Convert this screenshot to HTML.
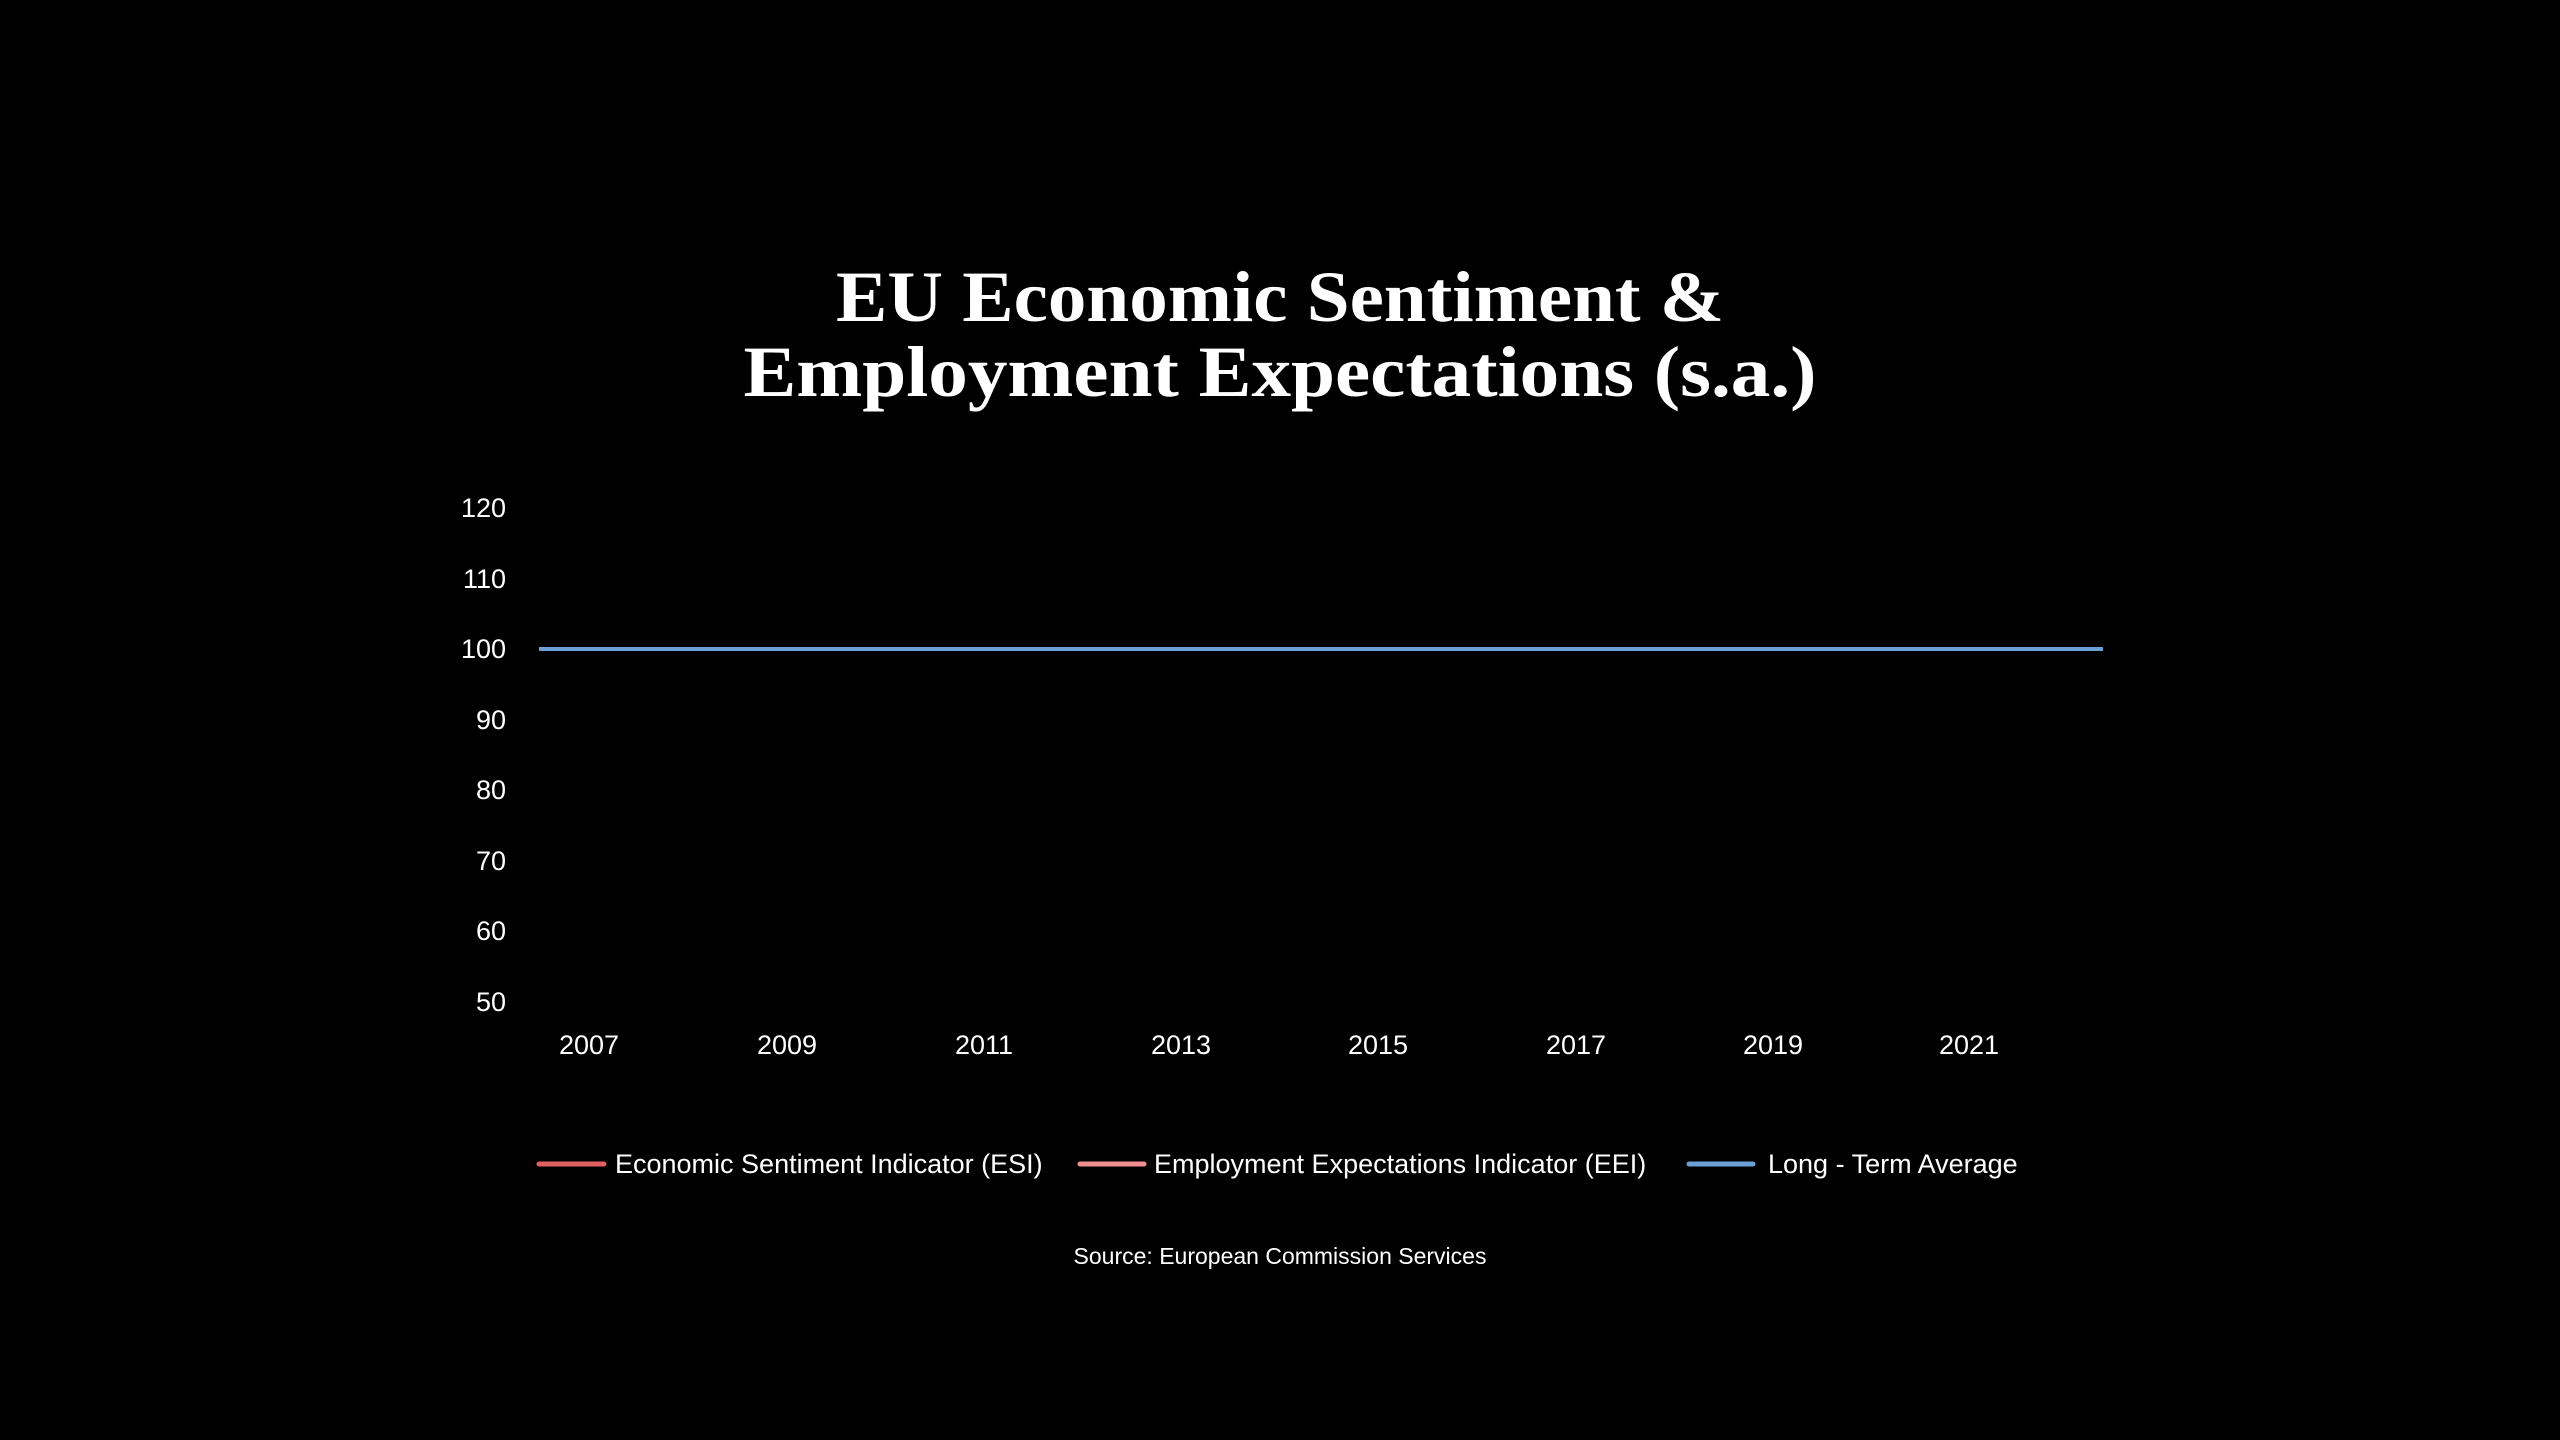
<!DOCTYPE html>
<html><head><meta charset="utf-8"><style>
html,body{margin:0;padding:0;background:#000;width:2560px;height:1440px;overflow:hidden}
svg{display:block}
</style></head><body>
<svg width="2560" height="1440" viewBox="0 0 2560 1440" xmlns="http://www.w3.org/2000/svg">
<rect width="2560" height="1440" fill="#000"/>
<g font-family="Liberation Serif, serif" font-weight="bold" font-size="72" fill="#fff" text-anchor="middle">
<text x="1280" y="321" textLength="888" lengthAdjust="spacingAndGlyphs">EU Economic Sentiment &amp;</text>
<text x="1280" y="396" textLength="1073" lengthAdjust="spacingAndGlyphs">Employment Expectations (s.a.)</text>
</g>
<g font-family="Liberation Sans, sans-serif" font-size="27" fill="#fff" text-anchor="end">
<text x="506" y="517">120</text>
<text x="506" y="588">110</text>
<text x="506" y="658">100</text>
<text x="506" y="729">90</text>
<text x="506" y="799">80</text>
<text x="506" y="870">70</text>
<text x="506" y="940">60</text>
<text x="506" y="1011">50</text>
</g>
<g font-family="Liberation Sans, sans-serif" font-size="27" fill="#fff" text-anchor="middle">
<text x="589" y="1054">2007</text>
<text x="787" y="1054">2009</text>
<text x="984" y="1054">2011</text>
<text x="1181" y="1054">2013</text>
<text x="1378" y="1054">2015</text>
<text x="1576" y="1054">2017</text>
<text x="1773" y="1054">2019</text>
<text x="1969" y="1054">2021</text>
</g>
<line x1="539" y1="649" x2="2103" y2="649" stroke="#6b9fd6" stroke-width="4"/>
<g stroke-width="5" stroke-linecap="round">
<line x1="539" y1="1164" x2="604" y2="1164" stroke="#e0605f"/>
<line x1="1080" y1="1164" x2="1144" y2="1164" stroke="#f08f92"/>
<line x1="1689" y1="1164" x2="1753" y2="1164" stroke="#6b9fd6"/>
</g>
<g font-family="Liberation Sans, sans-serif" font-size="27" fill="#fff">
<text x="615" y="1173">Economic Sentiment Indicator (ESI)</text>
<text x="1154" y="1173">Employment Expectations Indicator (EEI)</text>
<text x="1768" y="1173">Long - Term Average</text>
</g>
<text x="1280" y="1264" font-family="Liberation Sans, sans-serif" font-size="23" fill="#fff" text-anchor="middle">Source: European Commission Services</text>
</svg>
</body></html>
